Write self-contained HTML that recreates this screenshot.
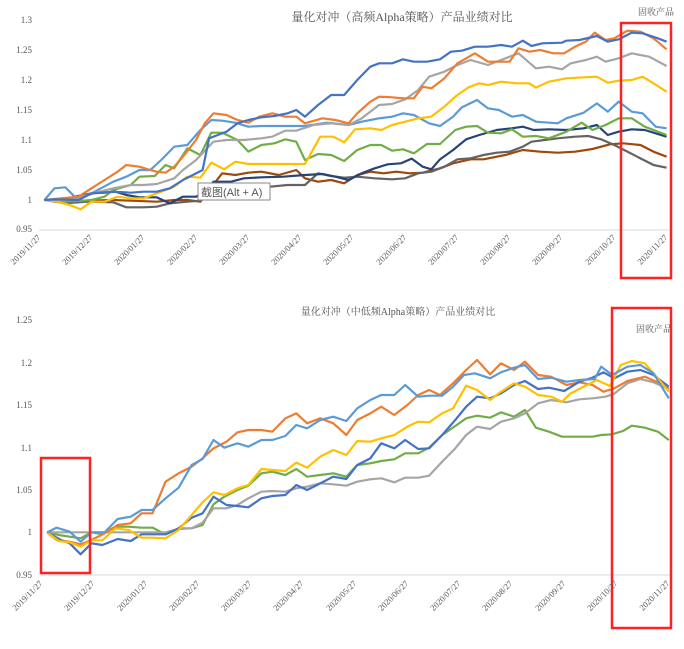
<!DOCTYPE html>
<html><head><meta charset="utf-8"><style>
html,body{margin:0;padding:0;background:#fff;}
.wrap{position:relative;width:684px;height:649px;overflow:hidden;background:#fff;}
svg{position:absolute;left:0;}
.l{fill:none;stroke-width:2.2;vector-effect:non-scaling-stroke;stroke-linejoin:round;}
text{font-family:"Liberation Serif","Noto Serif CJK SC",serif;fill:#555;}
</style></head><body><div class="wrap">

<svg style="top:0" width="684" height="290" viewBox="0 0 1570 870" preserveAspectRatio="none">
<line x1="90" y1="690" x2="1535" y2="690" stroke="#d9d9d9" stroke-width="1" vector-effect="non-scaling-stroke"/>
<polyline class="l" stroke="#9E480E" points="102,600 150,600 200,602 260,600 300,602 360,605 400,600 430,600 460,605 480,570 510,520 540,525 570,518 600,515 640,525 680,510 700,535 730,545 760,540 790,550 820,525 850,515 880,520 910,515 940,520 970,518 1010,505 1040,490 1080,478 1110,478 1140,470 1160,465 1200,450 1240,455 1280,458 1320,455 1360,447 1400,433 1430,430 1470,435 1500,455 1530,470"/>
<polyline class="l" stroke="#636363" points="102,600 150,610 200,605 260,607 290,622 330,622 360,620 390,610 430,605 460,602 490,575 510,570 540,562 580,560 620,560 660,555 700,555 730,520 760,528 790,533 820,530 860,535 900,538 930,535 960,520 990,515 1020,500 1050,478 1080,475 1110,465 1140,458 1170,455 1200,440 1220,425 1250,420 1280,415 1320,410 1350,408 1380,418 1410,435 1440,455 1470,475 1500,495 1530,503"/>
<polyline class="l" stroke="#264478" points="102,600 140,600 180,588 210,580 240,578 265,575 290,585 320,592 360,592 390,610 420,590 450,590 470,578 490,545 530,545 560,535 600,532 650,530 700,525 740,522 770,530 800,540 830,520 860,505 890,493 920,490 945,476 970,500 990,508 1010,478 1040,450 1070,418 1100,405 1140,390 1175,385 1200,380 1225,390 1260,388 1300,390 1340,385 1370,375 1395,405 1420,395 1450,388 1480,390 1530,410"/>
<polyline class="l" stroke="#70AD47" points="102,600 140,605 180,603 210,600 240,590 260,570 300,555 320,530 355,528 380,495 400,505 430,445 460,465 485,398 510,398 545,420 570,455 600,435 630,430 655,418 680,425 700,480 730,462 760,465 790,483 820,450 850,435 875,435 900,452 925,448 950,460 980,432 1010,432 1045,390 1070,380 1095,378 1120,398 1150,400 1175,388 1200,410 1230,408 1260,415 1300,395 1335,368 1360,390 1390,375 1420,355 1450,355 1480,380 1530,405"/>
<polyline class="l" stroke="#5B9BD5" points="102,600 125,565 150,562 175,595 210,580 260,545 290,530 320,510 345,510 370,480 400,440 430,435 460,390 485,360 510,362 540,368 570,380 600,378 650,378 700,378 750,368 800,375 830,365 870,355 900,350 925,340 950,345 985,370 1010,378 1040,350 1060,322 1095,300 1120,325 1145,330 1175,350 1200,345 1230,365 1280,370 1300,355 1340,338 1370,310 1395,335 1420,305 1450,335 1475,340 1505,380 1530,385"/>
<polyline class="l" stroke="#FFC000" points="102,600 130,605 160,615 185,628 210,605 240,605 270,590 300,595 330,595 360,580 400,560 430,530 460,533 485,488 515,508 540,485 570,492 610,492 650,492 700,492 735,410 765,410 790,427 815,388 850,385 875,390 900,375 930,365 960,355 990,350 1020,320 1045,290 1075,262 1100,250 1120,255 1150,245 1185,250 1215,250 1230,263 1260,245 1300,235 1340,232 1370,230 1395,248 1420,242 1450,240 1475,230 1500,250 1530,275"/>
<polyline class="l" stroke="#A5A5A5" points="102,600 150,600 190,590 220,578 260,565 300,555 330,555 360,552 400,535 420,510 450,480 490,425 520,420 560,420 600,415 625,410 655,392 680,392 720,375 760,370 800,375 830,355 870,315 900,312 930,298 960,270 985,230 1020,215 1050,195 1080,180 1120,195 1150,180 1190,160 1230,205 1260,200 1290,208 1310,190 1345,180 1370,170 1390,185 1420,175 1450,160 1490,170 1530,198"/>
<polyline class="l" stroke="#ED7D31" points="102,600 140,595 180,590 210,565 240,540 270,515 290,495 320,500 345,510 360,515 380,518 400,500 420,470 450,420 470,370 490,340 520,345 545,360 570,368 595,350 625,340 655,350 680,350 700,370 740,355 770,360 800,370 820,340 850,305 870,290 900,292 925,295 950,295 970,260 990,265 1020,235 1050,190 1090,160 1120,185 1170,185 1190,145 1215,155 1240,150 1270,160 1295,160 1320,140 1345,125 1365,98 1390,120 1410,115 1440,92 1470,95 1500,115 1530,148"/>
<polyline class="l" stroke="#4472C4" points="102,600 125,598 180,600 210,580 260,575 300,578 330,575 360,575 390,565 420,540 450,520 465,510 480,415 500,405 520,395 545,370 570,360 600,352 630,348 660,340 680,330 700,350 730,315 760,285 790,285 820,240 850,200 870,190 900,190 925,178 950,185 980,185 1010,178 1035,155 1060,152 1090,140 1120,140 1150,135 1175,140 1200,122 1220,138 1245,130 1290,128 1300,122 1330,120 1370,108 1395,125 1420,118 1450,98 1475,100 1510,115 1530,125"/>
</svg>

<svg style="top:295px" width="684" height="354" viewBox="0 0 1570 1062" preserveAspectRatio="none">
<line x1="95" y1="840" x2="1540" y2="840" stroke="#d9d9d9" stroke-width="1" vector-effect="non-scaling-stroke"/>
<polyline class="l" stroke="#70AD47" points="108,712 135,720 160,725 185,730 210,712 235,718 265,695 295,695 325,698 350,698 380,718 410,700 440,700 465,690 490,628 515,605 545,585 570,572 600,535 625,530 655,540 680,522 705,545 735,540 765,535 795,545 820,510 850,505 875,498 905,493 930,475 960,475 985,458 1015,420 1045,393 1070,370 1095,362 1125,368 1150,352 1180,365 1205,345 1230,398 1260,410 1290,425 1330,425 1360,425 1380,420 1405,418 1430,408 1450,392 1480,398 1510,410 1535,435"/>
<polyline class="l" stroke="#A5A5A5" points="108,712 160,712 210,712 270,712 325,712 380,712 410,702 440,700 465,683 490,640 520,640 545,630 570,610 600,590 625,588 655,590 680,580 705,575 735,565 765,568 795,572 820,560 850,553 875,550 905,562 930,548 960,548 985,542 1015,500 1045,460 1070,420 1095,395 1125,402 1150,380 1180,370 1205,355 1235,325 1265,315 1300,322 1330,313 1360,310 1390,305 1410,296 1440,265 1470,252 1500,262 1535,282"/>
<polyline class="l" stroke="#ED7D31" points="108,712 130,735 160,740 185,748 210,735 240,715 270,690 300,685 325,655 350,655 380,560 410,535 440,515 465,490 490,460 520,440 545,412 570,405 600,405 625,410 655,370 680,355 705,385 735,370 765,385 795,420 820,375 850,355 875,335 905,360 935,330 960,300 985,285 1010,300 1040,265 1070,225 1095,195 1125,238 1150,205 1180,225 1205,200 1235,240 1265,245 1300,270 1330,262 1360,270 1385,290 1410,280 1440,258 1480,245 1510,262 1535,280"/>
<polyline class="l" stroke="#4472C4" points="108,712 140,735 160,745 185,778 210,745 235,750 270,732 300,738 325,718 350,718 380,718 410,700 440,668 465,655 490,605 520,630 545,633 570,637 600,610 625,603 655,600 680,570 705,585 735,565 765,545 795,552 820,510 850,490 875,445 905,460 930,435 960,462 985,460 1015,420 1045,375 1070,335 1095,305 1125,310 1150,295 1180,270 1205,258 1235,282 1260,278 1295,288 1330,260 1360,248 1385,232 1410,250 1440,230 1470,225 1500,240 1535,275"/>
<polyline class="l" stroke="#FFC000" points="108,712 135,738 160,742 185,755 210,736 235,736 265,700 295,705 325,728 350,728 380,730 410,705 440,660 465,622 490,592 515,600 545,580 570,570 600,522 625,525 655,528 680,503 705,518 735,485 765,465 795,480 820,438 850,440 875,430 905,420 935,395 960,380 985,382 1015,355 1040,340 1070,272 1095,285 1125,315 1150,290 1180,265 1205,275 1235,300 1265,305 1290,320 1310,295 1340,275 1370,255 1400,273 1425,210 1450,198 1480,205 1510,250 1535,290"/>
<polyline class="l" stroke="#5B9BD5" points="108,712 130,698 160,710 185,740 210,712 240,712 270,672 300,665 325,645 350,645 380,610 410,578 440,510 465,492 490,435 515,458 545,445 570,455 600,435 625,435 655,423 680,390 705,400 735,375 765,365 795,378 820,340 850,315 875,300 905,300 930,270 960,305 985,302 1015,302 1040,275 1065,240 1090,235 1125,250 1150,232 1180,218 1205,210 1235,252 1265,248 1300,260 1330,255 1365,252 1380,215 1405,240 1440,215 1470,210 1500,235 1535,310"/>
</svg>

<svg style="top:0" width="684" height="649" viewBox="0 0 684 649">
<text x="402" y="21" font-size="12" text-anchor="middle" fill="#555">量化对冲（高频Alpha策略）产品业绩对比</text>
<text x="638" y="15" font-size="9" fill="#e00">固收产品</text>
<rect x="621" y="23" width="50" height="255" fill="none" stroke="#f22" stroke-width="2.5"/>
<g font-size="9" text-anchor="end">
<text x="32" y="23">1.3</text><text x="32" y="53">1.25</text><text x="32" y="83">1.2</text><text x="32" y="113">1.15</text><text x="32" y="143">1.1</text><text x="32" y="173">1.05</text><text x="32" y="203">1</text><text x="32" y="232">0.95</text>
</g>
<g font-size="8.5" text-anchor="end" fill="#666">
<text transform="translate(41,238) rotate(-45)">2019/11/27</text>
<text transform="translate(93,238) rotate(-45)">2019/12/27</text>
<text transform="translate(145,238) rotate(-45)">2020/01/27</text>
<text transform="translate(198,238) rotate(-45)">2020/02/27</text>
<text transform="translate(250,238) rotate(-45)">2020/03/27</text>
<text transform="translate(302,238) rotate(-45)">2020/04/27</text>
<text transform="translate(354,238) rotate(-45)">2020/05/27</text>
<text transform="translate(407,238) rotate(-45)">2020/06/27</text>
<text transform="translate(459,238) rotate(-45)">2020/07/27</text>
<text transform="translate(511,238) rotate(-45)">2020/08/27</text>
<text transform="translate(563,238) rotate(-45)">2020/09/27</text>
<text transform="translate(616,238) rotate(-45)">2020/10/27</text>
<text transform="translate(668,238) rotate(-45)">2020/11/27</text>
</g>
<rect x="198" y="183" width="72" height="17" fill="#fff" stroke="#888" stroke-width="1"/>
<text x="201" y="196" font-size="11" fill="#444" style="font-family:'Liberation Sans','Noto Sans CJK SC',sans-serif">截图(Alt + A)</text>

<text x="398" y="315" font-size="10" text-anchor="middle" fill="#555">量化对冲（中低频Alpha策略）产品业绩对比</text>
<text x="636" y="332" font-size="9" fill="#e00">固收产品</text>
<rect x="612" y="308" width="59" height="320" fill="none" stroke="#f22" stroke-width="2.5"/>
<rect x="41" y="458" width="49" height="115" fill="none" stroke="#f22" stroke-width="2.5"/>
<g font-size="9" text-anchor="end">
<text x="32" y="323">1.25</text><text x="32" y="366">1.2</text><text x="32" y="408">1.15</text><text x="32" y="451">1.1</text><text x="32" y="493">1.05</text><text x="32" y="535">1</text><text x="32" y="578">0.95</text>
</g>
<g font-size="8.5" text-anchor="end" fill="#666">
<text transform="translate(43,584) rotate(-45)">2019/11/27</text>
<text transform="translate(95,584) rotate(-45)">2019/12/27</text>
<text transform="translate(148,584) rotate(-45)">2020/01/27</text>
<text transform="translate(200,584) rotate(-45)">2020/02/27</text>
<text transform="translate(252,584) rotate(-45)">2020/03/27</text>
<text transform="translate(304,584) rotate(-45)">2020/04/27</text>
<text transform="translate(357,584) rotate(-45)">2020/05/27</text>
<text transform="translate(409,584) rotate(-45)">2020/06/27</text>
<text transform="translate(461,584) rotate(-45)">2020/07/27</text>
<text transform="translate(513,584) rotate(-45)">2020/08/27</text>
<text transform="translate(566,584) rotate(-45)">2020/09/27</text>
<text transform="translate(618,584) rotate(-45)">2020/10/27</text>
<text transform="translate(670,584) rotate(-45)">2020/11/27</text>
</g>
</svg>
</div></body></html>
